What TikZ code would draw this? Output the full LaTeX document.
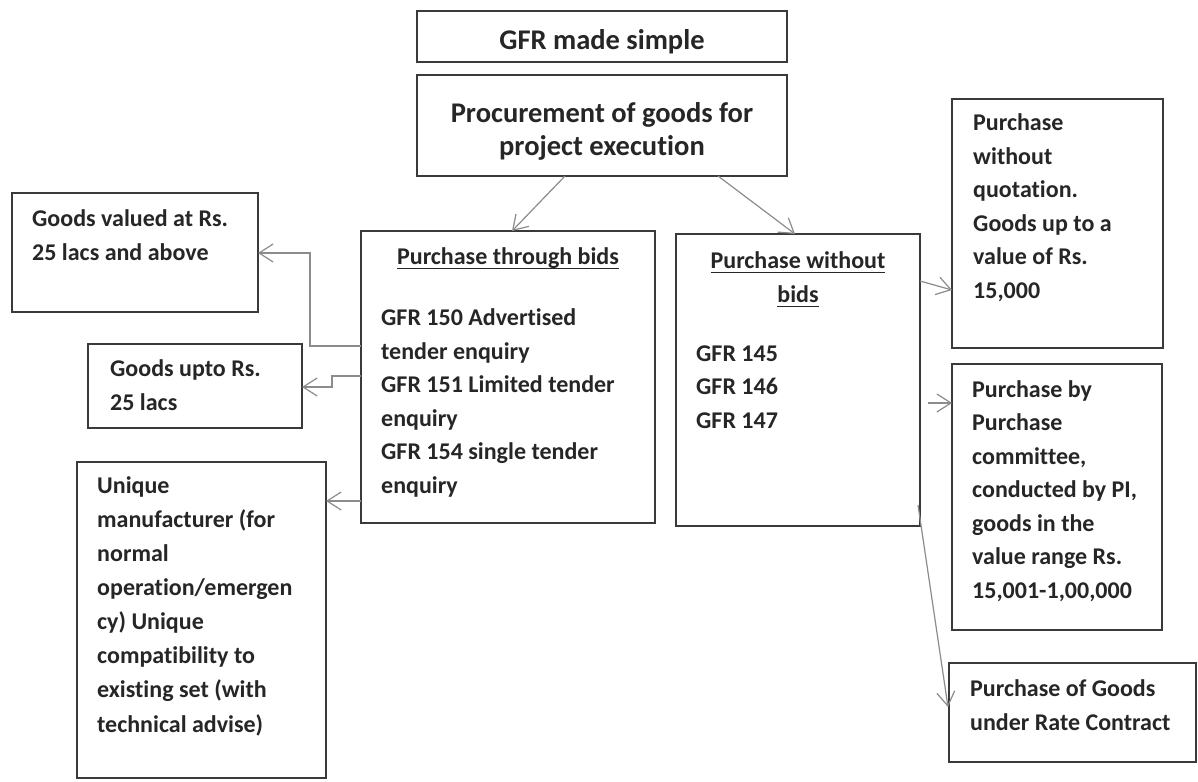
\documentclass[tikz,border=0pt]{standalone}
\usepackage{fontspec}
\setmainfont{Carlito}[Ligatures=NoCommon]
\usetikzlibrary{arrows.meta,calc}
\definecolor{txt}{HTML}{262626}
\definecolor{boxc}{HTML}{3A3A3A}
\definecolor{connc}{HTML}{8C8C8C}
\newcommand\ulx[1]{\leavevmode\setbox0\hbox{#1}\rlap{\color{txt}\rule[-5pt]{\wd0}{1.3pt}}\box0}
\begin{document}
\begin{tikzpicture}[x=1pt,y=-1pt,
  box/.style={draw=boxc,line width=1.3pt,rectangle,inner sep=0pt,outer sep=0pt,anchor=north west},
  body/.style={text=txt,font=\bfseries\fontsize{24}{33.5}\selectfont,align=left,anchor=base west,inner sep=0pt},
  bodyc/.style={text=txt,font=\bfseries\fontsize{24}{34}\selectfont,align=center,anchor=base,inner sep=0pt},
  head/.style={text=txt,font=\bfseries\fontsize{28.5}{33}\selectfont,align=center,anchor=base,inner sep=0pt},
  conn/.style={draw=connc,line width=1.2pt,-{Straight Barb[length=14pt,width=18pt,line width=1.2pt]}}]
\useasboundingbox (0,0) rectangle (1198,781);
\fill[white] (0,0) rectangle (1198,781);

% boxes
\node[box,minimum width=370pt,minimum height=51pt] (title) at (417,11) {};
\node[box,minimum width=370pt,minimum height=101pt] (proc) at (417,75) {};
\node[box,minimum width=294pt,minimum height=292pt] (bids) at (361,231) {};
\node[box,minimum width=244pt,minimum height=292pt] (nobids) at (676,234) {};
\node[box,minimum width=211pt,minimum height=249pt] (quot) at (952,99) {};
\node[box,minimum width=210pt,minimum height=266pt] (comm) at (952,364) {};
\node[box,minimum width=247pt,minimum height=99pt] (rate) at (949,663) {};
\node[box,minimum width=246pt,minimum height=119pt] (gabove) at (12,193) {};
\node[box,minimum width=214pt,minimum height=84pt] (gupto) at (88,344) {};
\node[box,minimum width=249pt,minimum height=316pt] (uniq) at (77,462) {};

% texts (anchored at the baseline of their last line)
\node[head] (ttitle) at (602,50) {GFR made simple};
\node[head] (tproc) at (602,155) {Procurement of goods for\\project execution};
\node[bodyc] (tbidsh) at (508,264) {\ulx{Purchase through bids}};
\node[body] (tbids) at (381,493) {GFR 150 Advertised\\tender enquiry\\GFR 151 Limited tender\\enquiry\\GFR 154 single tender\\enquiry};
\node[bodyc] (tnobidsh) at (798,302) {\ulx{Purchase without}\\\ulx{bids}};
\node[body] (tnobids) at (696,428) {GFR 145\\GFR 146\\GFR 147};
\node[body] (tquot) at (973,298) {Purchase\\without\\quotation.\\Goods up to a\\value of Rs.\\15,000};
\node[body] (tcomm) at (972,598) {Purchase by\\Purchase\\committee,\\conducted by PI,\\goods in the\\value range Rs.\\15,001-1,00,000};
\node[body] (trate) at (970,730) {Purchase of Goods\\under Rate Contract};
\node[body] (tgabove) at (32,260) {Goods valued at Rs.\\25 lacs and above};
\node[body] (tgupto) at (110,410) {Goods upto Rs.\\25 lacs};
\node[body,font=\bfseries\fontsize{24}{34.1}\selectfont] (tuniq) at (97,732) {Unique\\manufacturer (for\\normal\\operation/emergen\\cy) Unique\\compatibility to\\existing set (with\\technical advise)};

% connectors
\draw[conn] ($(proc.south west)+(148,0)$) -- ($(bids.north west)+(151,0)$);
\draw[conn] ($(proc.south west)+(301,0)$) -- ($(nobids.north west)+(119,0)$);
\draw[conn] ($(bids.north west)+(0,115)$) -- ++(-51,0) |- ($(gabove.north east)+(0,60)$);
\draw[conn] ($(bids.north west)+(0,145)$) -- ++(-29,0) |- ($(gupto.north east)+(0,43)$);
\draw[conn] ($(bids.north west)+(0,270)$) -- ($(uniq.north east)+(0,39)$);
\draw[conn] ($(nobids.north east)+(0,47)$) -- ($(quot.north west)+(0,191)$);
\draw[conn,shorten <=8pt] ($(nobids.north east)+(0,169)$) -- ($(comm.north west)+(0,39)$);
\draw[conn] ($(nobids.north east)+(-2,271)$) -- ($(rate.north west)+(-1,44)$);
\end{tikzpicture}
\end{document}
